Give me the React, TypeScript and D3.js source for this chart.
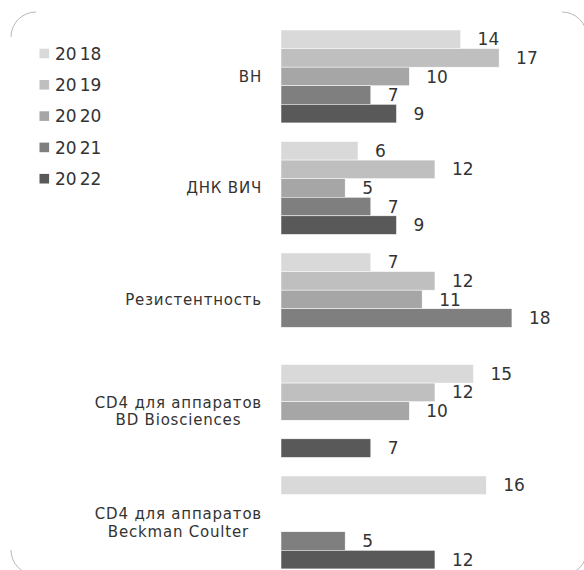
import React, { useEffect, useRef } from "react";
import * as d3 from "d3";

const categories: string[][] = [
  ["ВН"],
  ["ДНК ВИЧ"],
  ["Резистентность"],
  ["CD4 для аппаратов", "BD Biosciences"],
  ["CD4 для аппаратов", "Beckman Coulter"],
];
const years = ["2018", "2019", "2020", "2021", "2022"];
const v2018 = [14, 6, 7, 15, 16];
const v2019 = [17, 12, 12, 12, null];
const v2020 = [10, 5, 11, 10, null];
const v2021 = [7, 7, 18, null, 5];
const v2022 = [9, 9, null, 7, 12];
const series = [v2018, v2019, v2020, v2021, v2022];
const colors = ["#d9d9d9", "#bfbfbf", "#a6a6a6", "#7f7f7f", "#595959"];

const W = 584;
const H = 570;
const FONT = "'DejaVu Sans', Verdana, sans-serif";
const TEXT = "#333333";

export default function App() {
  const ref = useRef<SVGSVGElement | null>(null);

  useEffect(() => {
    const svg = d3.select(ref.current);
    svg.selectAll("*").remove();

    // frame corners (rounded rect of which only corners show)
    const fx0 = 11, fx1 = 587, fy0 = 12, fy1 = 575, r = 25;
    const arc = (cx: number, cy: number, a0: number, a1: number) => {
      const p = d3.path();
      p.arc(cx, cy, r, a0, a1);
      return p.toString();
    };
    const corners = [
      arc(fx0 + r, fy0 + r, Math.PI, 1.5 * Math.PI),
      arc(fx1 - r, fy0 + r, 1.5 * Math.PI, 2 * Math.PI),
      arc(fx0 + r, fy1 - r, 0.5 * Math.PI, Math.PI),
      arc(fx1 - r, fy1 - r, 0, 0.5 * Math.PI),
    ];
    svg
      .append("g")
      .selectAll("path")
      .data(corners)
      .join("path")
      .attr("d", (d) => d)
      .attr("fill", "none")
      .attr("stroke", "#b8b8b8")
      .attr("stroke-width", 1);

    const x = d3.scaleLinear().domain([0, 20]).range([281, 281 + 20 * 12.83]);
    const step = 111.5;
    const y0 = d3
      .scaleBand<number>()
      .domain(d3.range(categories.length))
      .range([30, 30 + categories.length * step - step / 6])
      .paddingInner(1 / 6)
      .paddingOuter(0);
    const y1 = d3
      .scaleBand<number>()
      .domain(d3.range(years.length))
      .range([0, y0.bandwidth()])
      .padding(0);

    const g = svg.append("g");
    series.forEach((vals, si) => {
      const items = vals
        .map((v, ci) => ({ v, ci }))
        .filter((d) => d.v !== null) as { v: number; ci: number }[];
      g.append("g")
        .selectAll("rect")
        .data(items)
        .join("rect")
        .attr("x", x(0))
        .attr("y", (d) => (y0(d.ci) as number) + (y1(si) as number))
        .attr("width", (d) => x(d.v) - x(0))
        .attr("height", y1.bandwidth())
        .attr("fill", colors[si])
        .attr("stroke", "#ffffff")
        .attr("stroke-width", 0.5);
      g.append("g")
        .selectAll("text")
        .data(items)
        .join("text")
        .attr("x", (d) => x(d.v) + 17)
        .attr("y", (d) => (y0(d.ci) as number) + (y1(si) as number) + y1.bandwidth() / 2)
        .attr("dy", "0.36em")
        .attr("font-family", FONT)
        .attr("font-size", 17)
        .attr("fill", TEXT)
        .text((d) => String(d.v));
    });

    // category labels
    const labelRight = 262;
    const lg = svg.append("g");
    categories.forEach((lines, ci) => {
      const cy = (y0(ci) as number) + y0.bandwidth() / 2;
      const lh = 17.5;
      const t = lg
        .append("text")
        .attr("font-family", FONT)
        .attr("font-size", 15)
        .attr("letter-spacing", 0.8)
        .attr("fill", TEXT)
        .attr("text-anchor", "middle");
      const spans = lines.map((ln, li) =>
        t
          .append("tspan")
          .attr("y", cy + (li - (lines.length - 1) / 2) * lh)
          .attr("dy", "0.36em")
          .text(ln)
      );
      const widths = spans.map((s) => (s.node() as SVGTSpanElement).getComputedTextLength());
      const maxW = Math.max(...widths);
      spans.forEach((s) => s.attr("x", labelRight - maxW / 2));
    });

    // legend
    const leg = svg.append("g");
    years.forEach((yr, i) => {
      const cy = 53.5 + i * 31.3;
      leg
        .append("rect")
        .attr("x", 39.5)
        .attr("y", cy - 4.8)
        .attr("width", 9.6)
        .attr("height", 9.6)
        .attr("fill", colors[i]);
      const t = leg
        .append("text")
        .attr("x", 55)
        .attr("y", cy)
        .attr("dy", "0.36em")
        .attr("font-family", FONT)
        .attr("font-size", 17)
        .attr("fill", TEXT);
      t.append("tspan").text(yr.slice(0, 2));
      t.append("tspan").attr("dx", 3).text(yr.slice(2));
    });
  }, []);

  return (
    <svg
      ref={ref}
      width={W}
      height={H}
      style={{ position: "absolute", left: 0, top: 0, background: "#fff" }}
    />
  );
}
